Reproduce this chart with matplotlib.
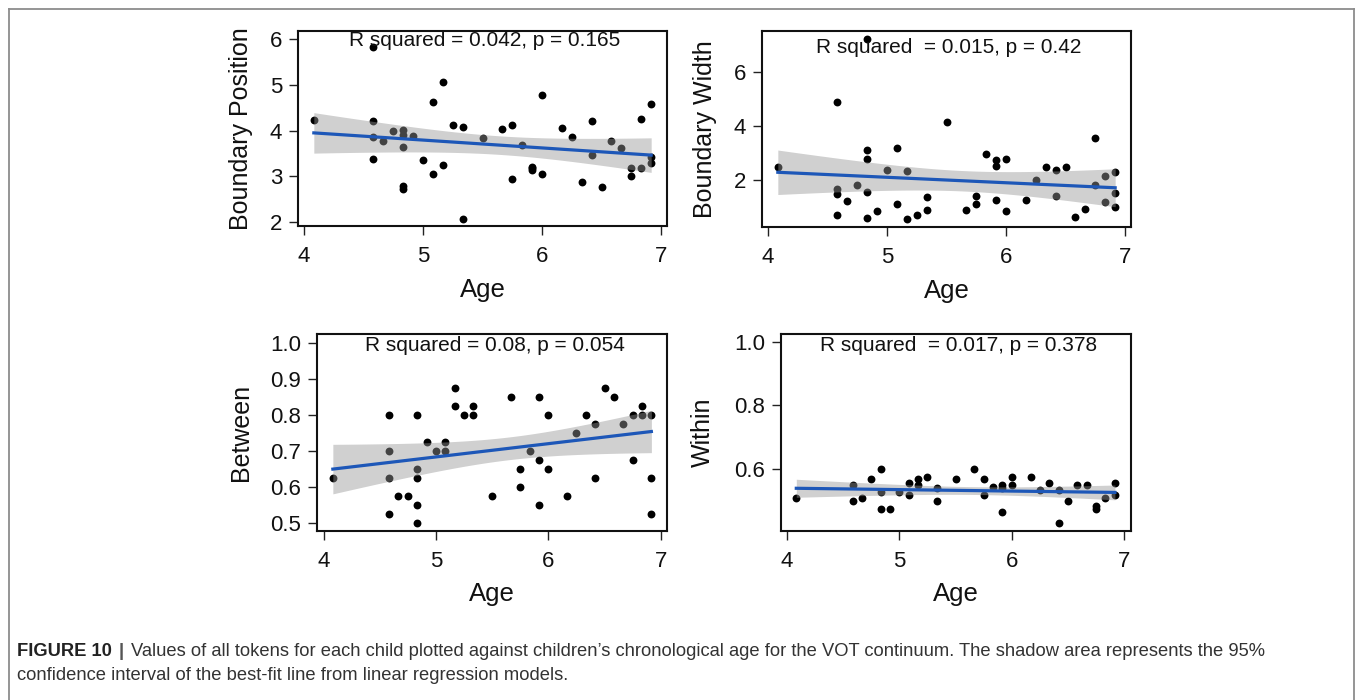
import numpy as np
import matplotlib
matplotlib.use("Agg")
import matplotlib.pyplot as plt
from matplotlib.lines import Line2D

plt.rcParams['font.family'] = ['Liberation Sans', 'DejaVu Sans']

# ages (years) and values per child, one pair of lists per measure
age_pos = [4.083, 4.583, 4.583, 4.583, 4.583, 4.667, 4.75, 4.833, 4.833, 4.833, 4.833, 4.833,
           4.917, 5.0, 5.083, 5.083, 5.167, 5.167, 5.25, 5.333, 5.333, 5.5, 5.667, 5.75, 5.75,
           5.833, 5.917, 5.917, 5.917, 6.0, 6.0, 6.167, 6.25, 6.333, 6.417, 6.417, 6.5, 6.583,
           6.667, 6.75, 6.75, 6.833, 6.833, 6.917, 6.917, 6.917]
boundary_pos = [4.23, 5.82, 4.22, 3.85, 3.38, 3.78, 3.99, 4.02, 3.90, 3.64, 2.78, 2.72,
                3.87, 3.35, 4.62, 3.05, 5.07, 3.24, 4.13, 4.08, 2.07, 3.84, 4.04, 4.12, 2.93,
                3.68, 3.21, 3.17, 3.14, 4.77, 3.04, 4.06, 3.85, 2.88, 4.21, 3.46, 2.77, 3.78,
                3.62, 3.17, 3.00, 4.25, 3.19, 4.58, 3.43, 3.29]

age_width = [4.083, 4.583, 4.583, 4.583, 4.583, 4.667, 4.75, 4.833, 4.833, 4.833, 4.833, 4.833,
             4.917, 5.0, 5.083, 5.083, 5.167, 5.167, 5.25, 5.333, 5.333, 5.5, 5.667, 5.75, 5.75,
             5.833, 5.917, 5.917, 5.917, 6.0, 6.0, 6.167, 6.25, 6.333, 6.417, 6.417, 6.5, 6.583,
             6.667, 6.75, 6.75, 6.833, 6.833, 6.917, 6.917, 6.917]
boundary_width = [2.47, 4.88, 1.67, 1.50, 0.72, 1.24, 1.83, 7.22, 3.10, 2.76, 1.55, 0.62,
                  0.86, 2.37, 3.19, 1.10, 2.33, 0.56, 0.71, 1.36, 0.88, 4.14, 0.88, 1.40, 1.10,
                  2.98, 2.74, 2.53, 1.25, 2.76, 0.87, 1.26, 1.99, 2.49, 2.37, 1.41, 2.49, 0.65,
                  0.95, 3.54, 1.83, 2.15, 1.20, 2.31, 1.53, 1.02]

age_between = [4.083, 4.583, 4.583, 4.583, 4.583, 4.667, 4.75, 4.833, 4.833, 4.833, 4.833, 4.833,
               4.917, 5.0, 5.083, 5.083, 5.167, 5.167, 5.25, 5.333, 5.333, 5.5, 5.667, 5.75, 5.75,
               5.833, 5.917, 5.917, 5.917, 6.0, 6.0, 6.167, 6.25, 6.333, 6.417, 6.417, 6.5, 6.583,
               6.667, 6.75, 6.75, 6.833, 6.833, 6.917, 6.917, 6.917]
between = [0.625, 0.80, 0.70, 0.625, 0.525, 0.575, 0.575, 0.80, 0.65, 0.625, 0.55, 0.50,
           0.725, 0.70, 0.725, 0.70, 0.875, 0.825, 0.80, 0.825, 0.80, 0.575, 0.85, 0.65, 0.60,
           0.70, 0.85, 0.675, 0.55, 0.80, 0.65, 0.575, 0.75, 0.80, 0.775, 0.625, 0.875, 0.85,
           0.775, 0.80, 0.675, 0.825, 0.80, 0.80, 0.625, 0.525]

age_within = [4.083, 4.583, 4.583, 4.667, 4.75, 4.833, 4.833, 4.833, 4.917, 5.0, 5.083, 5.083,
              5.167, 5.167, 5.25, 5.333, 5.333, 5.5, 5.667, 5.75, 5.75, 5.833, 5.917, 5.917,
              5.917, 6.0, 6.0, 6.167, 6.25, 6.333, 6.417, 6.417, 6.5, 6.583, 6.667, 6.75, 6.75,
              6.833, 6.917, 6.917]
within = [0.508, 0.551, 0.50, 0.508, 0.568, 0.60, 0.527, 0.475, 0.475, 0.527, 0.558, 0.520,
          0.569, 0.55, 0.575, 0.541, 0.50, 0.568, 0.60, 0.568, 0.518, 0.543, 0.55, 0.542,
          0.467, 0.575, 0.55, 0.575, 0.534, 0.558, 0.534, 0.432, 0.50, 0.55, 0.55, 0.483, 0.475,
          0.508, 0.558, 0.518]

stats_text = ["R squared = 0.042, p = 0.165", "R squared  = 0.015, p = 0.42",
              "R squared = 0.08, p = 0.054", "R squared  = 0.017, p = 0.378"]
ylabels = ["Boundary Position", "Boundary Width", "Between", "Within"]

W, H = 1357, 700
fig = plt.figure(figsize=(W / 100, H / 100), dpi=100)


def px_axes(l, t, r, b):
    return fig.add_axes([l / W, 1 - b / H, (r - l) / W, (b - t) / H])


def reg_panel(ax, x, y, xlim, ylim, yticks, ylab, txt, txt_y, ylab_x, xlab_y):
    x = np.asarray(x)
    y = np.asarray(y)
    ax.scatter(x, y, s=32, color='black', linewidths=0, zorder=2)

    # least squares fit with 95% confidence band
    n = len(x)
    slope, icpt = np.polyfit(x, y, 1)
    resid = y - (icpt + slope * x)
    se = np.sqrt(np.sum(resid ** 2) / (n - 2))
    xs = np.linspace(x.min(), x.max(), 100)
    fit = icpt + slope * xs
    tval = 2.02
    half = tval * se * np.sqrt(1 / n + (xs - x.mean()) ** 2 / np.sum((x - x.mean()) ** 2))
    ax.fill_between(xs, fit - half, fit + half, color='#979797', alpha=0.45,
                    linewidth=0, zorder=3)
    ax.plot(xs, fit, color='#1d57b8', lw=2.3, zorder=4)

    ax.set_xlim(*xlim)
    ax.set_ylim(*ylim)
    ax.set_xticks([4, 5, 6, 7])
    ax.set_yticks(yticks)
    ax.set_yticklabels([f"{v:g}" if ylab.startswith("Boundary") else f"{v:.1f}" for v in yticks])
    ax.tick_params(direction='out', length=6.5, width=1.0, labelsize=16, color='#222222',
                   labelcolor='#111111')
    ax.tick_params(axis='x', pad=8)
    ax.tick_params(axis='y', pad=5)
    for sp in ax.spines.values():
        sp.set_linewidth(1.5)
        sp.set_color('#111111')
    ax.set_ylabel(ylab, fontsize=18, color='#111111')
    ax.set_xlabel("Age", fontsize=18.5, color='#111111', va='top')
    ax.yaxis.set_label_coords(ylab_x, 0.5)
    ax.xaxis.set_label_coords(0.5, xlab_y)
    ax.text(0.507, txt_y, txt, transform=ax.transAxes, ha='center', va='top',
            fontsize=15, color='#111111', zorder=5)


ax1 = px_axes(298, 31, 667, 226)
reg_panel(ax1, age_pos, boundary_pos, (3.95, 7.05), (1.91, 6.18), [2, 3, 4, 5, 6],
          ylabels[0], stats_text[0], 1.0, -0.122, -0.265)

ax2 = px_axes(762, 31, 1131, 227)
reg_panel(ax2, age_width, boundary_width, (3.95, 7.05), (0.27, 7.5), [2, 4, 6],
          ylabels[1], stats_text[1], 0.965, -0.122, -0.265)

ax3 = px_axes(317, 334, 667, 531)
reg_panel(ax3, age_between, between, (3.942, 7.056), (0.477, 1.024),
          [0.5, 0.6, 0.7, 0.8, 0.9, 1.0], ylabels[2], stats_text[2], 0.99, -0.182, -0.26)

ax4 = px_axes(781, 334, 1131, 531)
reg_panel(ax4, age_within, within, (3.947, 7.06), (0.406, 1.024), [0.6, 0.8, 1.0],
          ylabels[3], stats_text[3], 0.99, -0.1875, -0.26)

# frame around the figure panel (open at the bottom)
frame_col = '#8c8c8c'
fig.add_artist(Line2D([9 / W, 9 / W], [0, 1 - 9 / H], transform=fig.transFigure,
                      color=frame_col, lw=1.3))
fig.add_artist(Line2D([9 / W, 1354 / W], [1 - 9 / H, 1 - 9 / H], transform=fig.transFigure,
                      color=frame_col, lw=1.3))
fig.add_artist(Line2D([1354 / W, 1354 / W], [0, 1 - 9 / H], transform=fig.transFigure,
                      color=frame_col, lw=1.3))

# caption
cap_size = 13.25
y1, y2 = 652, 676
bold = fig.text(17 / W, 1 - y1 / H, "FIGURE 10", fontsize=cap_size, fontweight='bold',
                color='#222222', va='center', ha='left')
fig.canvas.draw()
bb = bold.get_window_extent()
bar = fig.text((bb.x1 + 7) / W, 1 - y1 / H, "|", fontsize=cap_size, color='#555555',
               va='center', ha='left', fontweight='bold')
fig.canvas.draw()
bb2 = bar.get_window_extent()
fig.text((bb2.x1 + 7) / W, 1 - y1 / H,
         "Values of all tokens for each child plotted against children\u2019s chronological age "
         "for the VOT continuum. The shadow area represents the 95%",
         fontsize=cap_size, color='#333333', va='center', ha='left')
fig.text(17 / W, 1 - y2 / H,
         "confidence interval of the best-fit line from linear regression models.",
         fontsize=cap_size, color='#333333', va='center', ha='left')

fig.savefig("out.png", dpi=100)
